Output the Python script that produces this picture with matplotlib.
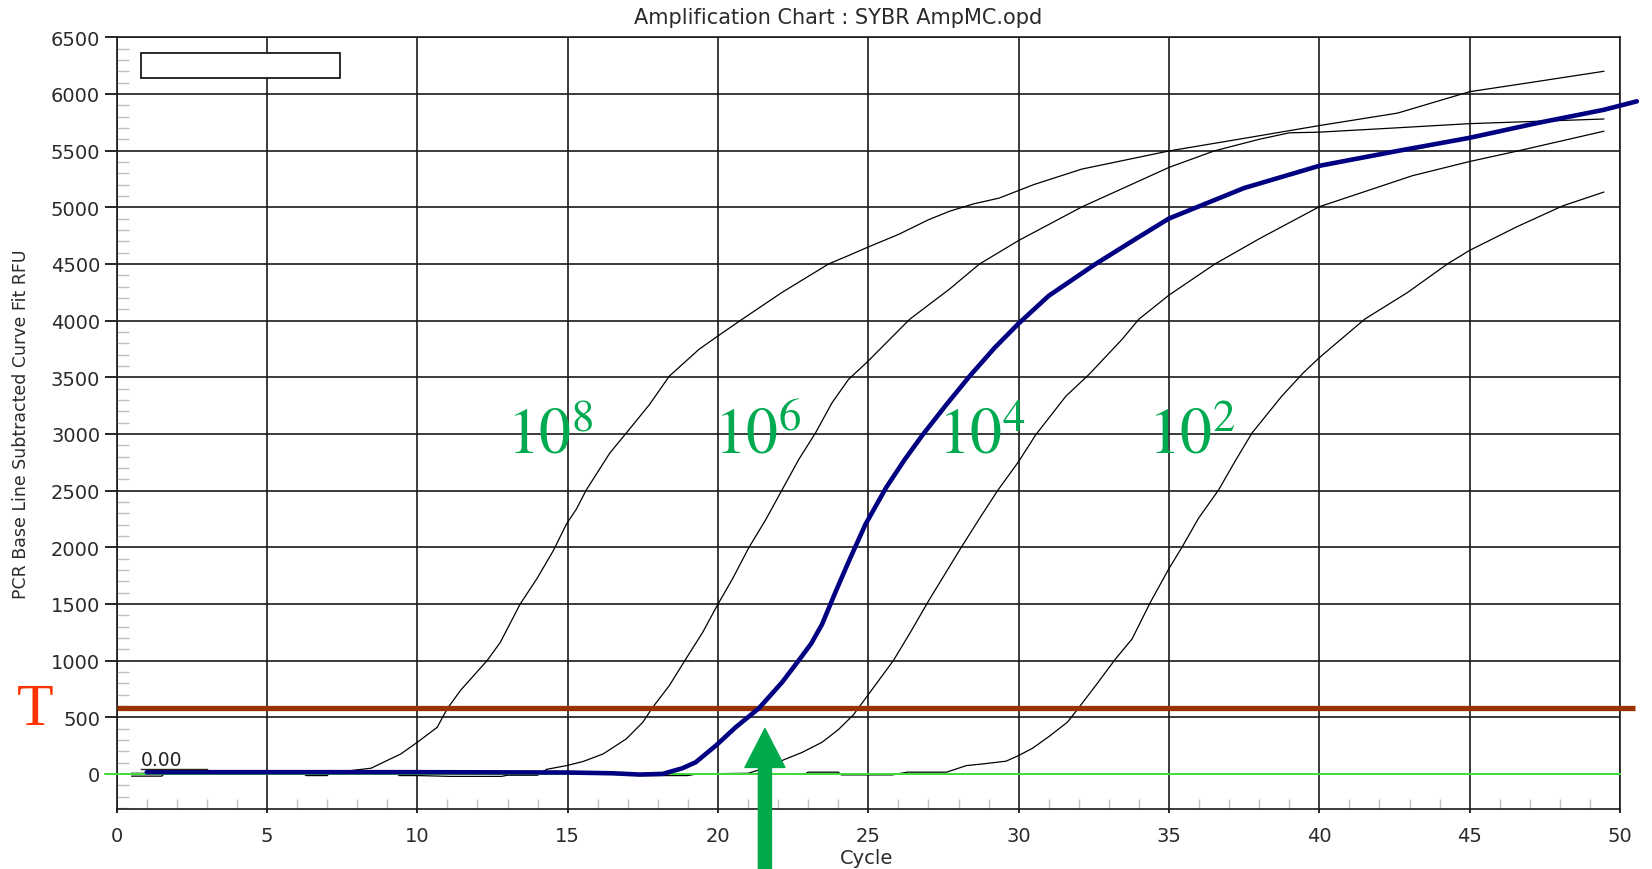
import matplotlib
matplotlib.use('Agg')
import matplotlib.pyplot as plt
from matplotlib.patches import Rectangle
from matplotlib.ticker import MultipleLocator

# ---------------- data ----------------
title = "Amplification Chart : SYBR AmpMC.opd"
x_label = "Cycle"
y_label = "PCR Base Line Subtracted Curve Fit RFU"

cyc_1e8 = [0.5, 1.5, 1.6, 6.2, 6.3, 7.0, 7.1, 7.79, 8.46, 9.45, 10.0, 10.66, 10.99, 11.43, 12.32,
           12.76, 13.42, 13.97, 14.52, 14.96, 15.29, 15.62, 16.40, 16.95, 17.72, 18.38, 19.37, 20.0,
           20.81, 22.13, 23.68, 24.34, 25.0, 26.0, 27.0, 27.7, 28.5, 29.35, 30.5, 32.1, 35.0, 37.6,
           40.0, 42.6, 45.0, 47.0, 49.46]
rfu_1e8 = [-20, -20, 5, 5, -15, -15, 10, 29, 50, 176, 279, 411, 573, 735, 1000,
           1161, 1499, 1720, 1969, 2205, 2337, 2506, 2831, 3008, 3259, 3510, 3747, 3865,
           4013, 4249, 4500, 4574, 4650, 4760, 4890, 4965, 5030, 5081, 5200, 5337, 5497, 5613,
           5721, 5831, 6020, 6100, 6200]

cyc_1e6 = [0.5, 9.3, 9.4, 10.0, 11.1, 12.8, 13.0, 14.0, 14.30, 14.96, 15.51, 16.18, 16.95, 17.50,
           17.83, 18.38, 18.93, 19.49, 20.0, 20.48, 21.03, 21.58, 22.13, 22.68, 23.24, 23.79, 24.34,
           24.94, 26.38, 27.7, 28.70, 30.0, 32.1, 35.0, 36.5, 38.0, 39.0, 40.0, 42.5, 45.0, 49.46]
rfu_1e6 = [5, 5, -15, -15, -22, -22, -12, -12, 40, 73, 109, 176, 309, 456,
           588, 779, 1014, 1249, 1499, 1720, 1999, 2240, 2506, 2772, 3008, 3274, 3481,
           3629, 4013, 4278, 4500, 4707, 5003, 5352, 5497, 5600, 5657, 5663, 5700, 5738, 5779]

cyc_1e4 = [0.5, 17.3, 17.4, 19.0, 19.3, 21.0, 21.6, 22.13, 22.8, 23.46, 24.0, 24.5, 25.0, 25.83,
           26.4, 27.04, 28.09, 28.70, 29.3, 30.0, 30.57, 31.57, 32.34, 33.44, 34.0, 35.0, 36.53,
           38.0, 40.0, 43.1, 45.0, 46.6, 49.46]
rfu_1e4 = [0, 0, -15, -15, 0, 5, 55, 118, 190, 279, 390, 520, 700, 999,
           1250, 1543, 1999, 2255, 2500, 2757, 2993, 3333, 3525, 3835, 4013, 4225, 4500,
           4722, 5005, 5279, 5404, 5497, 5671]

cyc_1e2 = [0.5, 22.9, 23.0, 24.0, 24.1, 25.8, 26.3, 27.6, 28.26, 28.81, 29.58, 30.0, 30.46, 31.02,
           31.62, 32.01, 32.56, 33.22, 33.77, 34.38, 34.99, 35.43, 35.98, 36.65, 37.2, 37.76, 38.75,
           39.47, 40.0, 41.51, 42.94, 44.26, 45.0, 46.57, 48.09, 49.46]
rfu_1e2 = [0, 0, 15, 15, -9, -9, 15, 15, 73, 88, 112, 162, 226, 332,
           456, 588, 779, 1014, 1190, 1514, 1808, 1999, 2255, 2506, 2760, 3008, 3333,
           3540, 3673, 4013, 4249, 4500, 4620, 4828, 5012, 5134]

cyc_unknown = [1.0, 5, 10, 15, 16.5, 17.39, 18.16, 18.82, 19.26, 19.93, 20.59, 21.36, 22.13, 22.68,
               23.1, 23.46, 23.90, 24.34, 24.9, 25.6, 26.2, 26.8, 27.6, 28.37, 29.2, 30.0, 31.0,
               32.56, 33.9, 35.0, 37.5, 40.0, 42.6, 45.0, 47.26, 49.46, 50.56]
rfu_unknown = [15, 15, 15, 12, 5, -6, 0, 50, 103, 250, 412, 579, 808, 1000,
               1150, 1320, 1600, 1870, 2200, 2530, 2770, 2990, 3260, 3510, 3760, 3975, 4219,
               4500, 4722, 4901, 5170, 5366, 5497, 5613, 5744, 5860, 5935]

standard_labels = ["8", "6", "4", "2"]          # exponents of 10
label_left_cycle = [12.97, 19.88, 27.3, 34.3]
label_baseline_rfu = 2840

threshold_rfu = 580
threshold_span = [0, 50.5]
baseline_span = [-0.4, 50]
ct_unknown = 21.56
arrow_tip_rfu = 400

legend_box = [0.81, 6144, 6.63, 217]   # x, y, width, height (data units)
zero_text = "0.00"
zero_mark_x = [0.8, 3.0]
zero_mark_y = [45, 45]

# ---------------- figure ----------------
plt.rcParams['font.family'] = ['DejaVu Sans']
plt.rcParams['mathtext.fontset'] = 'stix'

W, H = 1652, 870
fig = plt.figure(figsize=(W / 100, H / 100), dpi=100)
ax = fig.add_axes([116.7 / W, 60 / H, 1503.3 / W, 771.7 / H])
ax.set_xlim(0, 50)
ax.set_ylim(-310, 6500)

ax.xaxis.set_major_locator(MultipleLocator(5))
ax.xaxis.set_minor_locator(MultipleLocator(1))
ax.yaxis.set_major_locator(MultipleLocator(500))
ax.yaxis.set_minor_locator(MultipleLocator(100))
ax.grid(True, which='major', color='#1a1a1a', lw=1.2)
ax.set_axisbelow(True)

ax.tick_params(axis='y', which='major', direction='out', length=8.4, width=1.2, pad=3.5,
               labelsize=14, labelcolor='#2a2a2a')
ax.tick_params(axis='y', which='minor', direction='in', length=8.5, width=1.0, color='#c0c0c0')
ax.tick_params(axis='x', which='major', direction='out', length=3, width=1.2, pad=9,
               labelsize=14, labelcolor='#2a2a2a')
ax.tick_params(axis='x', which='minor', direction='in', length=7.2, width=1.0, color='#c0c0c0')
for s in ax.spines.values():
    s.set_linewidth(1.2)
    s.set_color('#1a1a1a')

# standard curves
for cx, cy in [(cyc_1e8, rfu_1e8), (cyc_1e6, rfu_1e6), (cyc_1e4, rfu_1e4), (cyc_1e2, rfu_1e2)]:
    ax.plot(cx, cy, color='black', lw=0.9, zorder=3)

# baseline (green) and threshold (brown)
ax.plot(baseline_span, [0, 0], color='#44ee44', lw=1.3, zorder=4, clip_on=False)
ax.plot(threshold_span, [threshold_rfu, threshold_rfu], color='#993300', lw=3.8, zorder=5,
        clip_on=False, solid_capstyle='butt')

# unknown sample (blue)
ax.plot(cyc_unknown, rfu_unknown, color='#000080', lw=3.3, zorder=6, clip_on=False,
        solid_capstyle='round', solid_joinstyle='round')

# legend box
ax.add_patch(Rectangle((legend_box[0], legend_box[1]), legend_box[2], legend_box[3],
                       facecolor='white', edgecolor='#1a1a1a', lw=1.3, zorder=7))

# 0.00 marker
ax.text(zero_mark_x[0], 45, zero_text, fontsize=13.5, color='#222222', ha='left', va='bottom', zorder=7)
ax.plot(zero_mark_x, zero_mark_y, color='#222222', lw=1.0, zorder=7)

# standard labels
for e, xl in zip(standard_labels, label_left_cycle):
    ax.text(xl, label_baseline_rfu, r'$10^{%s}$' % e, fontsize=46, color='#00aa50',
            ha='left', va='baseline', zorder=8)

# green arrow marking the Ct of the unknown
ax.annotate('', xy=(ct_unknown, arrow_tip_rfu), xycoords='data',
            xytext=(ct_unknown, -1000), textcoords='data', annotation_clip=False,
            arrowprops=dict(arrowstyle='simple,head_length=1.4,head_width=1.44,tail_width=0.47',
                            color='#00aa4a', shrinkA=0, shrinkB=0, mutation_scale=20),
            zorder=10)

# threshold label T
fig.text(35 / W, 1 - 725 / H, 'T', fontsize=43, color='#ff3300', family='Liberation Serif',
         ha='center', va='baseline')

# titles
fig.text(838 / W, 1 - 18 / H, title, fontsize=15, color='#2a2a2a', ha='center', va='center')
fig.text(867 / W, 1 - 859 / H, x_label, fontsize=14, color='#2a2a2a', ha='center', va='center')
fig.text(21 / W, 1 - 424 / H, y_label, fontsize=12.5, color='#2a2a2a', rotation=90,
         ha='center', va='center')

fig.savefig('out.png', dpi=100)
